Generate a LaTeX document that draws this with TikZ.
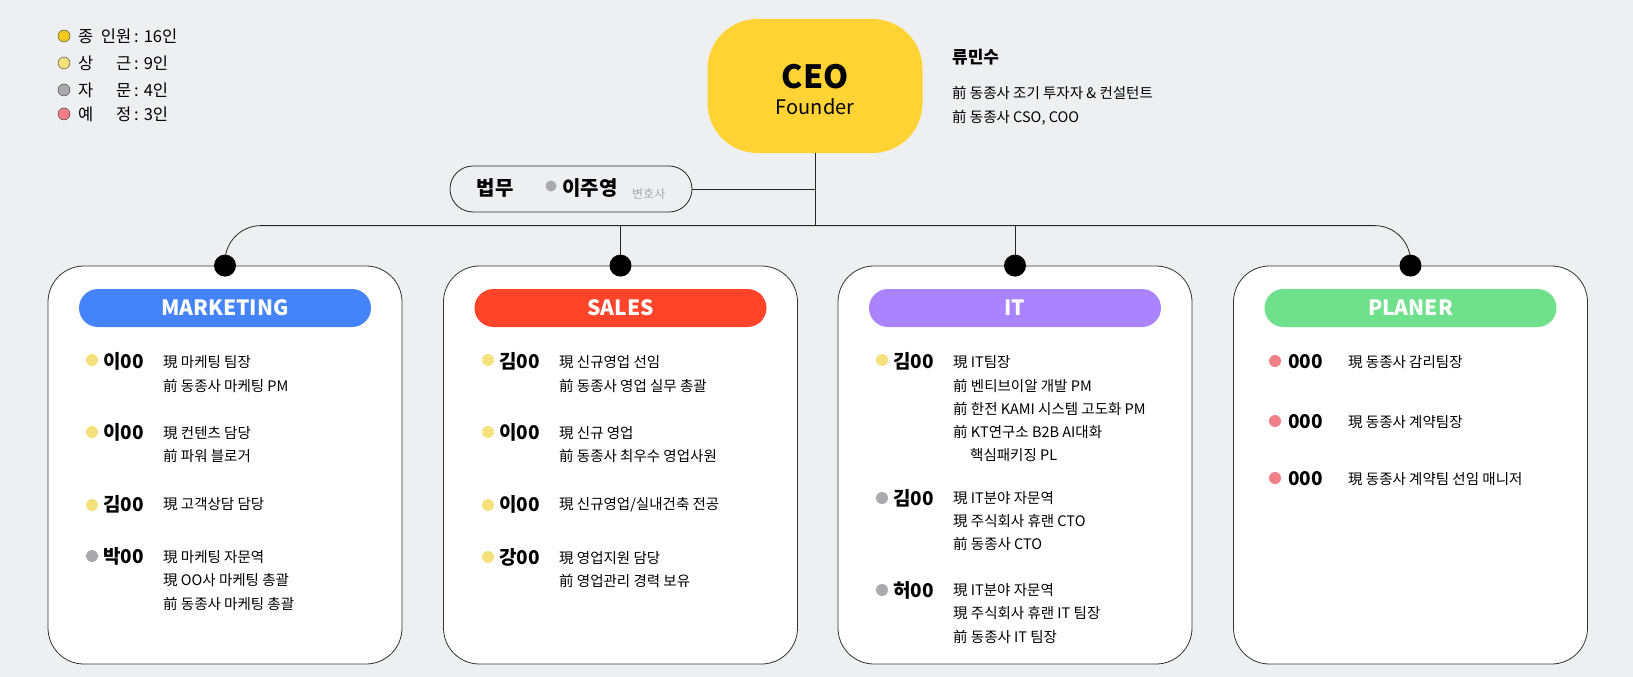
\documentclass[tikz,border=0pt]{standalone}
\usepackage{fontspec}
\setmainfont{Noto Sans CJK KR}
\usetikzlibrary{positioning}
\definecolor{bgray}{HTML}{EEEFF1}
\definecolor{ceoyellow}{HTML}{FFD334}
\definecolor{mkblue}{HTML}{4484F8}
\definecolor{slred}{HTML}{FF4429}
\definecolor{itpurple}{HTML}{AA83FF}
\definecolor{plgreen}{HTML}{6FE08B}
\definecolor{ytotal}{HTML}{F2CB1E}
\definecolor{yfull}{HTML}{F5E17B}
\definecolor{gadv}{HTML}{A9A9AE}
\definecolor{pplan}{HTML}{F17F87}
\definecolor{lawgray}{HTML}{A4A8AE}

\begin{document}
\begin{tikzpicture}[x=1pt,y=-1pt]

\tikzstyle{dept}=[draw=black!80,fill=white,line width=0.8pt,rounded corners=36pt,minimum width=354pt,minimum height=398pt,inner sep=0pt]
\tikzstyle{head}=[rounded corners=19pt,minimum width=292pt,minimum height=38pt,inner sep=0pt,text=white,font=\fontsize{21}{23}\selectfont\bfseries]
\tikzstyle{staff}=[anchor=west,inner sep=0pt,text height=14pt,text depth=4pt,font=\fontsize{19}{21}\selectfont\bfseries]
\tikzstyle{info}=[anchor=west,inner sep=0pt,text height=11pt,text depth=3pt,font=\fontsize{14.5}{16}\selectfont]
\tikzstyle{legend}=[anchor=west,inner sep=0pt,font=\fontsize{16.5}{18}\selectfont]
\tikzstyle{bullet}=[circle,minimum size=12pt,inner sep=0pt]
\tikzstyle{joint}=[circle,fill=black,minimum size=22pt,inner sep=0pt]
\tikzstyle{wire}=[line width=0.8pt,black!85]

\fill [bgray] (0,0) rectangle (1633,677);
\useasboundingbox (0,0) rectangle (1633,677);

% legend
\node (l1) [bullet,draw=black!80,fill=ytotal] at (64,36) {};
\node (l2) [bullet,draw=black!80,fill=yfull] at (64,63) {};
\node (l3) [bullet,draw=black!80,fill=gadv] at (64,90) {};
\node (l4) [bullet,draw=black!80,fill=pplan] at (64,114) {};
\node (t1) [legend] at (78,36) {\hbox to 53pt{종\hfill 인원}\hspace{3pt}:\hspace{5pt}16인};
\node (t2) [legend] at (78,63) {\hbox to 53pt{상\hfill 근}\hspace{3pt}:\hspace{5pt}9인};
\node (t3) [legend] at (78,90) {\hbox to 53pt{자\hfill 문}\hspace{3pt}:\hspace{5pt}4인};
\node (t4) [legend] at (78,114) {\hbox to 53pt{예\hfill 정}\hspace{3pt}:\hspace{5pt}3인};

% CEO
\node (ceo) [fill=ceoyellow,rounded corners=50pt,minimum width=215pt,minimum height=134pt] at (815,86) {};
\node (ceo_title) [inner sep=0pt,font=\fontsize{32}{34}\selectfont\bfseries] at (815,77) {CEO};
\node (ceo_sub) [inner sep=0pt,font=\fontsize{20}{22}\selectfont] at (815,107) {Founder};
\node (ceo_name) [anchor=west,inner sep=0pt,font=\fontsize{17}{19}\selectfont\bfseries] at (952,57) {류민수};
\node (ceo_bio1) [info,font=\fontsize{14.5}{16}\selectfont] at (952,94) {前 동종사 조기 투자자 \& 컨설턴트};
\node (ceo_bio2) [info,font=\fontsize{14.5}{16}\selectfont] at (952,118) {前 동종사 CSO, COO};

% legal
\node (legal) [draw=black!85,line width=0.8pt,rounded corners=23pt,minimum width=242pt,minimum height=46pt] at (571,189) {};
\node (legal_t) [inner sep=0pt,font=\fontsize{20}{22}\selectfont\bfseries] at (495,188) {법무};
\node (legal_d) [bullet,fill=gadv,minimum size=11pt] at (551,186) {};
\node (legal_n) [anchor=west,inner sep=0pt,font=\fontsize{20}{22}\selectfont\bfseries] at (562,188) {이주영};
\node (legal_r) [anchor=west,inner sep=0pt,text=lawgray,font=\fontsize{12}{14}\selectfont] at (632,194) {변호사};

% departments
\node (mk) [dept] at (225,465) {};
\node (sl) [dept] at (620.5,465) {};
\node (it) [dept] at (1015,465) {};
\node (pl) [dept] at (1410.5,465) {};

\node (mk_h) [head,fill=mkblue] at (225,308) {MARKETING};
\node (sl_h) [head,fill=slred] at (620.5,308) {SALES};
\node (it_h) [head,fill=itpurple] at (1015,308) {IT};
\node (pl_h) [head,fill=plgreen] at (1410.5,308) {PLANER};

% connectors
\coordinate (bus) at (815,225);
\draw [wire] (ceo.south) -- (bus);
\draw [wire] (legal.east) -- (legal.east -| bus);
\draw [wire,rounded corners=36pt] (mk.north) -- ++(0,-40) -| (pl.north);
\draw [wire] (sl.north) -- (sl.north |- bus);
\draw [wire] (it.north) -- (it.north |- bus);
\node (mk_j) [joint] at (mk.north) {};
\node (sl_j) [joint] at (sl.north) {};
\node (it_j) [joint] at (it.north) {};
\node (pl_j) [joint] at (pl.north) {};

% marketing
\node (mk1_d) [bullet,fill=yfull] at (92,360) {};
\node (mk1) [staff] at (103,363) {이00};
\node (mk1_a) [info] at (163,363) {現 마케팅 팀장};
\node (mk1_b) [info] at (163,387) {前 동종사 마케팅 PM};
\node (mk2_d) [bullet,fill=yfull] at (92,432) {};
\node (mk2) [staff] at (103,434) {이00};
\node (mk2_a) [info] at (163,434) {現 컨텐츠 담당};
\node (mk2_b) [info] at (163,457) {前 파워 블로거};
\node (mk3_d) [bullet,fill=yfull] at (92,505) {};
\node (mk3) [staff] at (103,506) {김00};
\node (mk3_a) [info] at (163,505) {現 고객상담 담당};
\node (mk4_d) [bullet,fill=gadv] at (92,556) {};
\node (mk4) [staff] at (103,558) {박00};
\node (mk4_a) [info] at (163,558) {現 마케팅 자문역};
\node (mk4_b) [info] at (163,581) {現 OO사 마케팅 총괄};
\node (mk4_c) [info] at (163,605) {前 동종사 마케팅 총괄};

% sales
\node (sl1_d) [bullet,fill=yfull] at (488,360) {};
\node (sl1) [staff] at (499,363) {김00};
\node (sl1_a) [info] at (559,363) {現 신규영업 선임};
\node (sl1_b) [info] at (559,387) {前 동종사 영업 실무 총괄};
\node (sl2_d) [bullet,fill=yfull] at (488,432) {};
\node (sl2) [staff] at (499,434) {이00};
\node (sl2_a) [info] at (559,434) {現 신규 영업};
\node (sl2_b) [info] at (559,457) {前 동종사 최우수 영업사원};
\node (sl3_d) [bullet,fill=yfull] at (488,505) {};
\node (sl3) [staff] at (499,506) {이00};
\node (sl3_a) [info] at (559,505) {現 신규영업/실내건축 전공};
\node (sl4_d) [bullet,fill=yfull] at (488,557) {};
\node (sl4) [staff] at (499,559) {강00};
\node (sl4_a) [info] at (559,559) {現 영업지원 담당};
\node (sl4_b) [info] at (559,582) {前 영업관리 경력 보유};

% IT
\node (it1_d) [bullet,fill=yfull] at (882,360) {};
\node (it1) [staff] at (893,363) {김00};
\node (it1_a) [info] at (953,363) {現 IT팀장};
\node (it1_b) [info] at (953,387) {前 벤티브이알 개발 PM};
\node (it1_c) [info] at (953,410) {前 한전 KAMI 시스템 고도화 PM};
\node (it1_d2) [info] at (953,433) {前 KT연구소 B2B AI대화};
\node (it1_e) [info] at (970,456) {핵심패키징 PL};
\node (it2_d) [bullet,fill=gadv] at (882,498) {};
\node (it2) [staff] at (893,500) {김00};
\node (it2_a) [info] at (953,499) {現 IT분야 자문역};
\node (it2_b) [info] at (953,522) {現 주식회사 휴랜 CTO};
\node (it2_c) [info] at (953,545) {前 동종사 CTO};
\node (it3_d) [bullet,fill=gadv] at (882,590) {};
\node (it3) [staff] at (893,592) {허00};
\node (it3_a) [info] at (953,591) {現 IT분야 자문역};
\node (it3_b) [info] at (953,614) {現 주식회사 휴랜 IT 팀장};
\node (it3_c) [info] at (953,638) {前 동종사 IT 팀장};

% planer
\node (pl1_d) [bullet,fill=pplan] at (1275,361) {};
\node (pl1) [staff] at (1288,363) {000};
\node (pl1_a) [info] at (1348,363) {現 동종사 감리팀장};
\node (pl2_d) [bullet,fill=pplan] at (1275,421) {};
\node (pl2) [staff] at (1288,423) {000};
\node (pl2_a) [info] at (1348,423) {現 동종사 계약팀장};
\node (pl3_d) [bullet,fill=pplan] at (1275,478) {};
\node (pl3) [staff] at (1288,480) {000};
\node (pl3_a) [info] at (1348,480) {現 동종사 계약팀 선임 매니저};

\end{tikzpicture}
\end{document}
